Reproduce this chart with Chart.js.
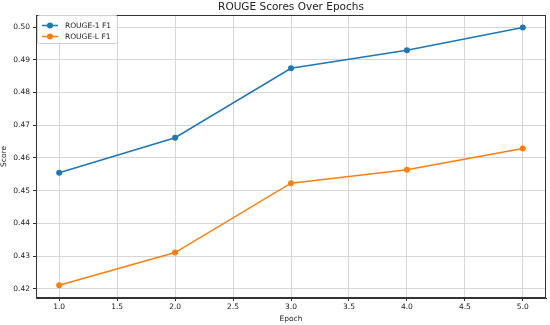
<!DOCTYPE html>
<html>
<head>
<meta charset="utf-8">
<script src="https://cdn.jsdelivr.net/npm/chart.js@4/dist/chart.umd.min.js"></script>
<style>
  html, body { margin: 0; padding: 0; background: #fff; }
  #wrap { width: 550px; height: 325px; }
</style>
</head>
<body>
<div id="wrap"><canvas id="rougeChart" width="550" height="325"></canvas></div>
<script>
// values
const epochs = [1, 2, 3, 4, 5];
const rouge1 = [0.4555, 0.4662, 0.4874, 0.4929, 0.4999];
const rougeL = [0.4211, 0.4311, 0.4523, 0.4564, 0.4629];
const seriesNames = ['ROUGE-1 F1', 'ROUGE-L F1'];
const seriesColors = ['#1f77b4', '#ff7f0e'];
const chartTitle = 'ROUGE Scores Over Epochs';

const FONT = 'DejaVu Sans';

function toPoints(xs, ys) {
    return xs.map((x, i) => ({ x: x, y: ys[i] }));
}

// title centred on the axes, top/right spines and legend box inside the plot (matplotlib style)
const framePlugin = {
    id: 'frameAndLegend',
    afterDraw(chart) {
        const ctx = chart.ctx;
        const a = chart.chartArea;
        ctx.save();
        ctx.strokeStyle = '#333';
        ctx.lineWidth = 1;
        ctx.strokeRect(a.left + 0.5, a.top + 0.5, a.right - a.left - 1, a.bottom - a.top - 1);

        ctx.fillStyle = '#222';
        ctx.font = '10.5px "' + FONT + '"';
        ctx.textAlign = 'center';
        ctx.textBaseline = 'middle';
        ctx.fillText(chartTitle, (a.left + a.right) / 2, 7.5);

        // legend
        const bx = a.left + 1.5, by = a.top + 0.5, bw = 80, bh = 28;
        ctx.fillStyle = 'rgba(255,255,255,0.85)';
        ctx.strokeStyle = '#d0d0d0';
        ctx.beginPath();
        ctx.roundRect(bx, by, bw, bh, 2);
        ctx.fill();
        ctx.stroke();
        ctx.font = '7.5px "' + FONT + '"';
        ctx.textAlign = 'left';
        chart.data.datasets.forEach((ds, i) => {
            const y = by + 10 + i * 11;
            ctx.strokeStyle = ds.borderColor;
            ctx.lineWidth = 1.5;
            ctx.beginPath();
            ctx.moveTo(bx + 4.5, y);
            ctx.lineTo(bx + 20.5, y);
            ctx.stroke();
            ctx.fillStyle = ds.backgroundColor;
            ctx.beginPath();
            ctx.arc(bx + 12.5, y, 3, 0, Math.PI * 2);
            ctx.fill();
            ctx.fillStyle = '#222';
            ctx.fillText(ds.label, bx + 27.5, y + 0.5);
        });
        ctx.restore();
    }
};

const ctx = document.getElementById('rougeChart').getContext('2d');
const rougeChart = new Chart(ctx, {
    type: 'line',
    data: {
        datasets: [
            {
                label: seriesNames[0],
                data: toPoints(epochs, rouge1),
                borderColor: seriesColors[0],
                backgroundColor: seriesColors[0],
                borderWidth: 1.5,
                pointRadius: 3,
                pointHoverRadius: 3,
                pointBorderWidth: 0,
                tension: 0
            },
            {
                label: seriesNames[1],
                data: toPoints(epochs, rougeL),
                borderColor: seriesColors[1],
                backgroundColor: seriesColors[1],
                borderWidth: 1.5,
                pointRadius: 3,
                pointHoverRadius: 3,
                pointBorderWidth: 0,
                tension: 0
            }
        ]
    },
    options: {
        responsive: false,
        animation: false,
        layout: { padding: { left: 0, right: 4, top: 15, bottom: 0 } },
        plugins: {
            legend: { display: false },
            tooltip: { enabled: false },
            title: { display: false }
        },
        scales: {
            x: {
                type: 'linear',
                min: 0.8,
                max: 5.2,
                afterFit(scale) { scale.height = 27; },
                ticks: {
                    stepSize: 0.5,
                    includeBounds: false,
                    color: '#222',
                    padding: 2,
                    maxRotation: 0,
                    font: { family: FONT, size: 7.5 },
                    callback: v => v.toFixed(1)
                },
                grid: { color: '#d6d6d6', lineWidth: 1, tickColor: '#333', tickLength: 3 },
                border: { display: true, color: '#333' },
                title: {
                    display: true,
                    text: 'Epoch',
                    color: '#222',
                    font: { family: FONT, size: 7.5 },
                    padding: { top: 0, bottom: 1 }
                }
            },
            y: {
                min: 0.4172,
                max: 0.5037,
                afterFit(scale) { scale.width = 36; },
                ticks: {
                    stepSize: 0.01,
                    includeBounds: false,
                    color: '#222',
                    padding: 3,
                    font: { family: FONT, size: 7.5 },
                    callback: v => v.toFixed(2)
                },
                grid: { color: '#d6d6d6', lineWidth: 1, tickColor: '#333', tickLength: 3 },
                border: { display: true, color: '#333' },
                title: {
                    display: true,
                    text: 'Score',
                    color: '#222',
                    font: { family: FONT, size: 7.5 },
                    padding: { top: 0, bottom: 0 }
                }
            }
        }
    },
    plugins: [framePlugin]
});
</script>
</body>
</html>
